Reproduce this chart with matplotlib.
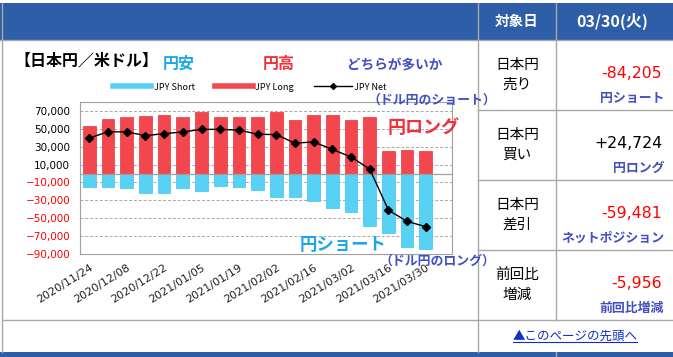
import matplotlib.pyplot as plt
from matplotlib.lines import Line2D
from matplotlib.patches import Rectangle
from matplotlib.ticker import FuncFormatter
import numpy as np

plt.rcParams['font.family'] = ['Noto Sans CJK JP', 'DejaVu Sans']

# weekly positions (CFTC)
dates = ["2020/11/24", "2020/12/01", "2020/12/08", "2020/12/15", "2020/12/22",
         "2020/12/29", "2021/01/05", "2021/01/12", "2021/01/19", "2021/01/26",
         "2021/02/02", "2021/02/09", "2021/02/16", "2021/02/23", "2021/03/02",
         "2021/03/09", "2021/03/16", "2021/03/23", "2021/03/30"]
jpy_long = [53300, 61400, 62900, 64000, 65500, 62900, 68500, 62900, 62900, 62900,
            68500, 59600, 65500, 65500, 59600, 62900, 24800, 26300, 24724]
jpy_short = [-15200, -15200, -16700, -22200, -22200, -16700, -19300, -13700, -14800, -18900,
             -26000, -26000, -30400, -38900, -42600, -58200, -66700, -81900, -84205]
jpy_net = [39600, 46800, 46500, 42400, 44600, 46500, 49400, 49400, 48600, 44000,
           43500, 34000, 35300, 27000, 18500, 5000, -41000, -53525, -59481]

head_date = "03/30(火)"
row_labels = ["日本円\n売り", "日本円\n買い", "日本円\n差引", "前回比\n増減"]
row_values = ["-84,205", "+24,724", "-59,481", "-5,956"]
row_colors = ["#FF0000", "#000000", "#FF0000", "#FF0000"]
row_notes = ["円ショート", "円ロング", "ネットポジション", "前回比増減"]

W, H = 673, 357
NAVY = '#2F5EA8'
LINE = '#A8A8A8'
NOTE = '#4150C0'

fig = plt.figure(figsize=(W / 100, H / 100), dpi=100)
bg = fig.add_axes([0, 0, 1, 1])
bg.set_xlim(0, W)
bg.set_ylim(H, 0)
bg.axis('off')


def ftext(x, y, s, **kw):
    # text placed in pixel coords, drawn above everything
    return fig.text(x / W, 1 - y / H, s, **kw)


# page frame and table
bg.add_patch(Rectangle((0, 3), W, 37, color=NAVY, lw=0))
bg.add_patch(Rectangle((0, 352), W, 6, color=NAVY, lw=0))
bg.plot([2, 2], [3, 352], color=LINE, lw=1)
bg.plot([478, 478], [3, 352], color=LINE, lw=1)
bg.plot([556, 556], [3, 320], color=LINE, lw=1)
bg.plot([556, 556], [352, 357], color=LINE, lw=1)
bg.plot([0, W], [40, 40], color=LINE, lw=1)
for yy in [110, 180, 250]:
    bg.plot([478, W], [yy, yy], color=LINE, lw=1)
bg.plot([2, W], [320, 320], color=LINE, lw=1)

ftext(517, 21, "対象日", color='white', fontsize=10.5, fontweight='bold', ha='center', va='center')
ftext(612, 21, head_date, color='white', fontsize=11.5, fontweight='bold', ha='center', va='center')
for i in range(4):
    top = 40 + 70 * i
    ftext(517, top + 35, row_labels[i], fontsize=10.5, ha='center', va='center', linespacing=1.55)
    ftext(662, top + 34, row_values[i], fontsize=11.3, color=row_colors[i], ha='right', va='center',
          family='DejaVu Sans')
    ftext(664, top + 58, row_notes[i], fontsize=9.3, color=NOTE, fontweight='bold', ha='right', va='center')
ftext(575, 336, "▲このページの先頭へ", fontsize=9, color='#1030C0', ha='center', va='center')
bg.plot([513, 637], [342, 342], color='#1030C0', lw=0.8)

# chart titles
ftext(14, 61, "【日本円／米ドル】", fontsize=11.5, fontweight='bold', ha='left', va='center')
ftext(179, 64, "円安", fontsize=11.5, fontweight='bold', color='#1AA7E8', ha='center', va='center')
ftext(279, 64, "円高", fontsize=11.5, fontweight='bold', color='#F0303A', ha='center', va='center')
ftext(395, 66, "どちらが多いか", fontsize=9.8, fontweight='bold', color=NOTE, ha='center', va='center')

# bar chart
x = np.arange(len(dates))
ax = fig.add_axes([80 / W, (H - 254) / H, 372 / W, 152 / H])
ax.bar(x, jpy_long, width=0.68, color='#F2474F', edgecolor='#E8323B', lw=0.5, zorder=2)
ax.bar(x, jpy_short, width=0.68, color='#58D2F4', edgecolor='#3CC4EC', lw=0.5, zorder=2)
ax.plot(x, jpy_net, color='black', lw=1, marker='D', markersize=4.5, zorder=4)
ax.axhline(0, color='#A0A0A0', lw=0.9, zorder=3)

ax.set_xlim(-0.5, 19.4)
ax.set_ylim(-90000, 80000)
ax.set_yticks(np.arange(-90000, 80000, 20000))
ax.yaxis.set_major_formatter(FuncFormatter(lambda v, p: f"{v:,.0f}".replace('-', '−')))
ax.set_axisbelow(True)
ax.yaxis.grid(True, ls=(0, (3, 2)), color='#A8A8A8', lw=0.7)
ax.tick_params(axis='y', length=0, labelsize=7.5, pad=7)
for lab, v in zip(ax.get_yticklabels(), ax.get_yticks()):
    lab.set_color('#FF0000' if v < 0 else 'black')
    lab.set_family('DejaVu Sans')
ax.set_xticks(x[::2])
ax.set_xticklabels(dates[::2], rotation=32, ha='right', rotation_mode='anchor', fontsize=8,
                   color='#202020', family='DejaVu Sans')
ax.tick_params(axis='x', length=0, pad=6)
for s in ax.spines.values():
    s.set_color('#A0A0A0')

handles = [Line2D([], [], color='#58D2F4', lw=4),
           Line2D([], [], color='#F2474F', lw=4),
           Line2D([], [], color='black', lw=1, marker='D', markersize=3)]
fig.legend(handles, ["JPY Short", "JPY Long", "JPY Net"], loc='center',
           bbox_to_anchor=(250 / W, 1 - 87 / H), ncol=3, frameon=False, fontsize=6.5,
           handlelength=4.2, columnspacing=2.2, handletextpad=0.3)

# annotations
ftext(432, 100, "（ドル円のショート）", fontsize=9.3, fontweight='bold', color=NOTE, ha='center', va='center')
ftext(424, 127, "円ロング", fontsize=13, fontweight='bold', color='#F0303A', ha='center', va='center')
ftext(343, 245, "円ショート", fontsize=12.5, fontweight='bold', color='#1AA7E8', ha='center', va='center')
ftext(437, 261, "（ドル円のロング）", fontsize=9.3, fontweight='bold', color=NOTE, ha='center', va='center')

fig.savefig("out.png", dpi=100)
